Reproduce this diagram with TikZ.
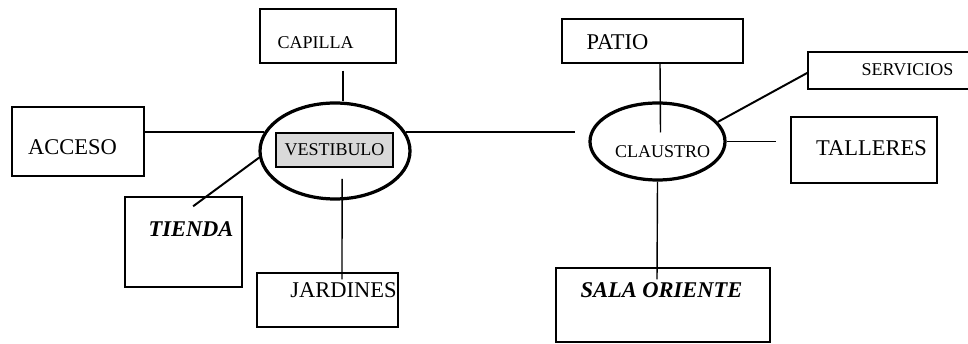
\documentclass[tikz,border=0pt]{standalone}
\usepackage{fontspec}
\setmainfont{Liberation Serif}
\usetikzlibrary{calc,shapes.geometric}

\begin{document}
\begin{tikzpicture}[
    room/.style={draw, line width=1pt, inner sep=0pt},
    hub/.style={draw, ellipse, line width=2.3pt, inner sep=0pt},
    big/.style={font=\fontsize{16}{18}\selectfont},
    small/.style={font=\fontsize{12.8}{14}\selectfont},
    link/.style={line width=1pt},
    boldlink/.style={line width=1.4pt}
  ]
  \useasboundingbox (0,0) rectangle (24.2,8.575);
  % boxes
  \node[room, minimum width=3.4cm, minimum height=1.35cm] (capilla) at (8.2,7.675) {};
  \node[room, minimum width=3.3cm, minimum height=1.725cm] (acceso) at (1.95,5.0375) {};
  \node[room, minimum width=2.925cm, minimum height=2.25cm] (tienda) at (4.5875,2.525) {};
  \node[room, minimum width=3.525cm, minimum height=1.35cm] (jardines) at (8.1875,1.075) {};
  \node[room, minimum width=4.525cm, minimum height=1.1cm] (patio) at (16.3125,7.55) {};
  \node[room, minimum width=4.175cm, minimum height=0.925cm] (servicios) at (22.2875,6.8125) {};
  \node[room, minimum width=3.65cm, minimum height=1.65cm] (talleres) at (21.6,4.825) {};
  \node[room, minimum width=5.35cm, minimum height=1.85cm] (sala) at (16.575,0.95) {};
  % hubs
  \node[hub, minimum width=3.75cm, minimum height=2.4cm] (vest) at (8.375,4.8) {};
  \node[room, line width=1.4pt, fill=black!15, minimum width=2.925cm, minimum height=0.85cm] (vestbox) at (8.3625,4.825) {};
  \node[hub, minimum width=3.375cm, minimum height=1.925cm] (claus) at (16.4375,5.0375) {};
  % labels
  \node[small] (capillaT) at (7.89,7.5) {CAPILLA};
  \node[big] (accesoT) at (1.8125,4.9) {ACCESO};
  \node[big] (tiendaT) at (4.775,2.85) {\textbf{\textit{TIENDA}}};
  \node[big] (jardinesT) at (8.5875,1.325) {JARDINES};
  \node[small] (vestT) at (8.3625,4.825) {VESTIBULO};
  \node[big] (patioT) at (15.4375,7.525) {PATIO};
  \node[small] (serviciosT) at (22.6875,6.825) {SERVICIOS};
  \node[small] (clausT) at (16.5625,4.775) {CLAUSTRO};
  \node[big] (talleresT) at (21.7875,4.875) {TALLERES};
  \node[big] (salaT) at (16.5375,1.325) {\textbf{\textit{SALA ORIENTE}}};
  % connectors
  \draw[link] (vest.165 -| acceso.east) -- (vest.165);
  \draw[link] (vest.15) -- ($(vest.15 -| claus.west)+(-0.325,0)$);
  \draw[link] ($(capilla.south)+(0.375,-0.175)$) -- ($(vest.north)+(0.2,0)$);
  \draw[boldlink] (vest.185) -- ($(tienda.north)+(0.24,-0.25)$);
  \draw[link] ($(vestbox.south)+(0.19,-0.275)$) -- ($(jardines.north)+(0.3625,-0.175)$);
  \draw[link] ($(patio.south)+(0.1875,0)$) -- ($(claus.center)+(0.075,0.225)$);
  \draw[boldlink] ($(servicios.west)+(0,-0.06)$) -- (claus.18);
  \draw[link] (claus.east) -- ($(claus.east -| talleres.west)+(-0.35,0)$);
  \draw[link] (claus.south) -- ($(sala.north)+(-0.15,-0.3)$);
\end{tikzpicture}
\end{document}
